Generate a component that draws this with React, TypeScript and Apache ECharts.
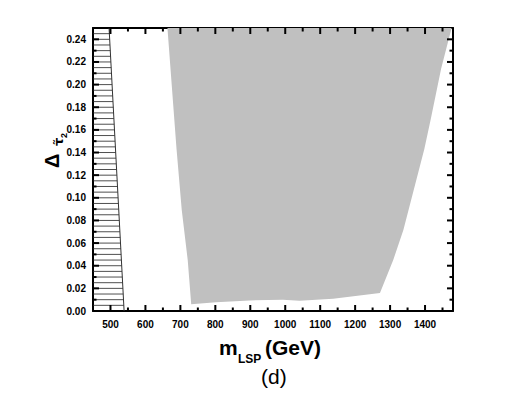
import React, { useEffect, useRef } from "react";
import * as echarts from "echarts";

// Axis ticks
const majorsX = [500, 600, 700, 800, 900, 1000, 1100, 1200, 1300, 1400];
const minorsX = [550, 650, 750, 850, 950, 1050, 1150, 1250, 1350, 1450];
const majorsY = [0, 0.02, 0.04, 0.06, 0.08, 0.1, 0.12, 0.14, 0.16, 0.18, 0.2, 0.22, 0.24];
const minorsY = [0.01, 0.03, 0.05, 0.07, 0.09, 0.11, 0.13, 0.15, 0.17, 0.19, 0.21, 0.23];

// Gray allowed region (boundary, clockwise from top-left)
const grayX = [663, 689, 704, 721, 731, 802, 898, 993, 1041, 1137, 1271, 1309, 1338, 1398, 1416, 1446, 1476];
const grayY = [0.25, 0.143, 0.089, 0.045, 0.006, 0.0078, 0.0093, 0.01, 0.009, 0.0108, 0.0158, 0.045, 0.0716, 0.143, 0.169, 0.214, 0.25];

// Hatched excluded region: boundary line from top to bottom
const hatchX = [496, 539];
const hatchY = [0.25, 0];
const hatchStep = 0.005;

const X_MIN = 450;
const X_MAX = 1480;
const Y_MIN = 0;
const Y_MAX = 0.25;

const FONT = '"Liberation Sans", Arial, sans-serif';

function xAxisDef(position: "top" | "bottom", labels: boolean) {
  return {
    type: "value",
    position,
    min: X_MIN,
    max: X_MAX,
    axisLine: { show: true, onZero: false, lineStyle: { color: "#000", width: 2 } },
    axisTick: { show: false },
    axisLabel: labels
      ? {
          show: true,
          customValues: majorsX,
          color: "#000",
          fontWeight: "bold",
          fontSize: 10,
          fontFamily: FONT,
          margin: 8,
          formatter: (v: number) => String(v),
        }
      : { show: false },
    splitLine: { show: false },
  };
}

function yAxisDef(position: "left" | "right", labels: boolean) {
  return {
    type: "value",
    position,
    min: Y_MIN,
    max: Y_MAX,
    interval: 0.02,
    axisLine: { show: true, onZero: false, lineStyle: { color: "#000", width: 2 } },
    axisTick: { show: false },
    axisLabel: labels
      ? {
          show: true,
          color: "#000",
          fontWeight: "bold",
          fontSize: 10,
          fontFamily: FONT,
          margin: 7,
          showMaxLabel: false,
          formatter: (v: number) => v.toFixed(2),
        }
      : { show: false },
    splitLine: { show: false },
  };
}

export default function App() {
  const ref = useRef<HTMLDivElement>(null);

  useEffect(() => {
    if (!ref.current) return;
    const chart = echarts.init(ref.current, null, { renderer: "svg" });

    const grayData = grayX.map((x, i) => [x, grayY[i]]);
    const hatchData = hatchX.map((x, i) => [x, hatchY[i]]);

    const tickLine = (a: number[], dx: number, dy: number) => ({
      type: "line",
      shape: { x1: a[0], y1: a[1], x2: a[0] + dx, y2: a[1] + dy },
      style: { stroke: "#000", lineWidth: 2 },
    });

    const option: any = {
      animation: false,
      backgroundColor: "#fff",
      grid: { left: 93, right: 73, top: 28, bottom: 82 },
      xAxis: [xAxisDef("bottom", true), xAxisDef("top", false)],
      yAxis: [yAxisDef("left", true), yAxisDef("right", false)],
      series: [
        {
          type: "custom",
          xAxisIndex: 0,
          yAxisIndex: 0,
          z: 1,
          data: grayData,
          encode: { x: 0, y: 1 },
          renderItem: (params: any, api: any) => {
            if (params.dataIndex !== 0) return null;
            const pts = grayData.map((p) => api.coord(p));
            return { type: "polygon", shape: { points: pts }, style: { fill: "#c0c0c0", stroke: "none" } };
          },
        },
        {
          type: "custom",
          xAxisIndex: 0,
          yAxisIndex: 0,
          z: 1,
          data: hatchData,
          encode: { x: 0, y: 1 },
          renderItem: (params: any, api: any) => {
            if (params.dataIndex !== 0) return null;
            const children: any[] = [];
            const [x0, x1] = hatchX;
            const [y0, y1] = hatchY;
            const n = Math.round((y0 - y1) / hatchStep);
            for (let k = 1; k < n; k++) {
              const y = y1 + k * hatchStep;
              const t = (y - y1) / (y0 - y1);
              const xb = x1 + (x0 - x1) * t;
              const a = api.coord([X_MIN, y]);
              const b = api.coord([xb, y]);
              children.push({
                type: "line",
                shape: { x1: a[0], y1: a[1], x2: b[0], y2: b[1] },
                style: { stroke: "#222", lineWidth: 0.8 },
              });
            }
            const p = api.coord([x0, y0]);
            const q = api.coord([x1, y1]);
            children.push({
              type: "line",
              shape: { x1: p[0], y1: p[1], x2: q[0], y2: q[1] },
              style: { stroke: "#333", lineWidth: 1 },
            });
            return { type: "group", children };
          },
        },
        {
          // inward axis ticks on all four sides, placed through the axes' scales
          type: "custom",
          xAxisIndex: 0,
          yAxisIndex: 0,
          z: 10,
          silent: true,
          clip: false,
          data: [[X_MIN, Y_MIN]],
          encode: { x: 0, y: 1 },
          renderItem: (params: any, api: any) => {
            const children: any[] = [];
            majorsX.forEach((v) => {
              children.push(tickLine(api.coord([v, Y_MIN]), 0, -6));
              children.push(tickLine(api.coord([v, Y_MAX]), 0, 6));
            });
            minorsX.forEach((v) => {
              children.push(tickLine(api.coord([v, Y_MIN]), 0, -3.5));
              children.push(tickLine(api.coord([v, Y_MAX]), 0, 3.5));
            });
            majorsY.forEach((v) => {
              children.push(tickLine(api.coord([X_MIN, v]), 6, 0));
              children.push(tickLine(api.coord([X_MAX, v]), -6, 0));
            });
            minorsY.forEach((v) => {
              children.push(tickLine(api.coord([X_MIN, v]), 3.5, 0));
              children.push(tickLine(api.coord([X_MAX, v]), -3.5, 0));
            });
            return { type: "group", children };
          },
        },
      ],
      graphic: [
        {
          type: "group",
          x: 58,
          y: 168,
          rotation: Math.PI / 2,
          children: [
            {
              type: "text",
              x: 0,
              y: -6,
              style: { text: "Δ", font: `bold 20px ${FONT}`, fill: "#000", textAlign: "left", textVerticalAlign: "middle" },
            },
            {
              type: "text",
              x: 22,
              y: 0,
              style: { text: "τ̃", font: 'bold 13px "DejaVu Sans"', fill: "#000", textAlign: "left", textVerticalAlign: "middle" },
            },
            {
              type: "text",
              x: 30,
              y: 6,
              style: { text: "2", font: `bold 9px ${FONT}`, fill: "#000", textAlign: "left", textVerticalAlign: "middle" },
            },
          ],
        },
        { type: "text", left: 219, top: 337, style: { text: "m", font: `bold 21px ${FONT}`, fill: "#000" } },
        { type: "text", left: 238, top: 353, style: { text: "LSP", font: `bold 12px ${FONT}`, fill: "#000" } },
        { type: "text", left: 265, top: 337, style: { text: "(GeV)", font: `bold 21px ${FONT}`, fill: "#000" } },
        { type: "text", left: 261, top: 366, style: { text: "(d)", font: `21px ${FONT}`, fill: "#000" } },
      ],
    };

    chart.setOption(option);
    return () => chart.dispose();
  }, []);

  return (
    <div
      ref={ref}
      style={{ position: "fixed", left: 0, top: 0, width: 526, height: 393, background: "#fff" }}
    />
  );
}
